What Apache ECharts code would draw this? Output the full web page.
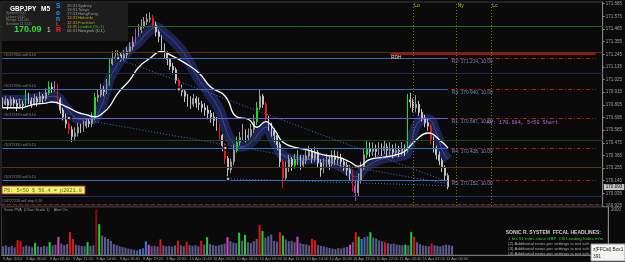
<!DOCTYPE html>
<html><head><meta charset="utf-8">
<script src="https://cdn.jsdelivr.net/npm/echarts@6/dist/echarts.min.js"></script>
<style>html,body{margin:0;padding:0;background:#0a0a0a;overflow:hidden}#c{width:625px;height:262px}</style>
</head><body><div id="c"></div>
<script>
// ---------- data ----------
const timeLabels = ['9 Apr 2014','9 Apr 06:00','9 Apr 08:40','9 Apr 11:20','9 Apr 14:00','9 Apr 16:40','9 Apr 19:20','9 Apr 22:00','10 Apr 00:40','10 Apr 03:20','10 Apr 06:00','10 Apr 08:40','10 Apr 11:20','10 Apr 14:00','10 Apr 16:40','10 Apr 19:20','10 Apr 22:00','11 Apr 00:40','11 Apr 03:20','11 Apr 06:00'];
const LABEL_EVERY = 8;
const SLOT_COUNT = 208;
const firstOpen = 170.85;
const closes = [
170.81,170.84,170.80,170.85,170.82,170.79,170.81,170.80,170.89,170.84,
170.81,170.86,170.83,170.88,170.86,170.91,170.96,170.94,170.97,170.85,
170.76,170.70,170.64,170.59,170.53,170.56,170.61,170.59,170.62,170.66,
170.64,170.69,170.87,170.89,170.94,170.92,170.99,171.16,171.21,171.22,
171.24,171.21,171.24,171.27,171.31,171.35,171.41,171.46,171.49,171.53,
171.55,171.56,171.50,171.44,171.40,171.33,171.25,171.20,171.14,171.11,
171.02,170.94,170.92,170.88,170.83,170.81,170.86,170.82,170.81,170.78,
170.76,170.73,170.70,170.67,170.62,170.54,170.45,170.34,170.24,170.31,
170.41,170.48,170.52,170.56,170.52,170.54,170.59,170.66,170.78,170.88,
170.81,170.69,170.62,170.58,170.54,170.46,170.31,170.17,170.26,170.33,
170.28,170.33,170.35,170.28,170.32,170.36,170.40,170.34,170.39,170.30,
170.24,170.29,170.33,170.29,170.36,170.33,170.34,170.31,170.28,170.24,
170.21,170.10,170.04,170.15,170.26,170.37,170.42,170.40,170.42,170.40,
170.43,170.41,170.44,170.41,170.42,170.39,170.41,170.40,170.42,170.41,
170.85,170.83,170.78,170.81,170.74,170.69,170.65,170.62,170.50,170.43,
170.37,170.32,170.26,170.19,170.09];
const highs = [
170.87,170.88,170.86,170.88,170.87,170.85,170.86,170.84,170.94,170.91,
170.87,170.90,170.88,170.92,170.90,170.95,171.01,171.00,171.01,170.99,
170.87,170.78,170.73,170.66,170.62,170.61,170.65,170.64,170.67,170.69,
170.68,170.74,170.91,170.94,170.99,170.97,171.03,171.21,171.27,171.28,
171.28,171.26,171.28,171.31,171.35,171.40,171.47,171.51,171.55,171.57,
171.60,171.61,171.59,171.53,171.46,171.41,171.34,171.27,171.21,171.17,
171.13,171.04,170.98,170.94,170.90,170.88,170.90,170.88,170.87,170.84,
170.82,170.80,170.76,170.74,170.70,170.64,170.55,170.47,170.36,170.34,
170.46,170.53,170.57,170.64,170.59,170.60,170.64,170.72,170.83,170.94,
170.90,170.83,170.71,170.65,170.60,170.56,170.48,170.33,170.31,170.37,
170.35,170.38,170.41,170.37,170.37,170.41,170.45,170.42,170.44,170.41,
170.33,170.34,170.38,170.36,170.41,170.41,170.40,170.38,170.34,170.31,
170.28,170.24,170.15,170.21,170.31,170.43,170.50,170.48,170.48,170.46,
170.48,170.47,170.50,170.47,170.48,170.46,170.47,170.45,170.48,170.46,
170.90,170.91,170.86,170.89,170.84,170.77,170.72,170.69,170.64,170.53,
170.45,170.40,170.34,170.28,170.21];
const lows = [
170.78,170.80,170.76,170.78,170.79,170.75,170.77,170.76,170.79,170.81,
170.78,170.80,170.79,170.81,170.82,170.84,170.89,170.91,170.92,170.81,
170.73,170.67,170.60,170.55,170.48,170.50,170.53,170.56,170.57,170.60,
170.61,170.61,170.67,170.83,170.87,170.88,170.90,170.97,171.15,171.19,
171.20,171.18,171.19,171.21,171.25,171.28,171.34,171.40,171.43,171.47,
171.50,171.52,171.48,171.40,171.35,171.28,171.21,171.15,171.11,171.07,
170.99,170.91,170.88,170.83,170.79,170.77,170.79,170.78,170.76,170.74,
170.71,170.68,170.65,170.62,170.58,170.50,170.40,170.29,170.17,170.21,
170.28,170.39,170.45,170.49,170.48,170.49,170.52,170.56,170.63,170.76,
170.78,170.66,170.58,170.53,170.48,170.41,170.26,170.08,170.15,170.22,
170.23,170.25,170.28,170.24,170.26,170.29,170.33,170.30,170.31,170.26,
170.18,170.21,170.26,170.24,170.27,170.28,170.28,170.27,170.23,170.19,
170.15,170.05,169.97,170.01,170.12,170.24,170.34,170.35,170.36,170.35,
170.37,170.36,170.38,170.36,170.37,170.34,170.36,170.35,170.37,170.36,
170.39,170.78,170.74,170.74,170.71,170.66,170.61,170.58,170.46,170.39,
170.33,170.28,170.22,170.14,170.07];
const volumes = [
380,420,350,400,330,650,600,360,420,380,
340,520,380,350,400,370,560,420,450,790,
500,430,480,1000,700,450,420,390,380,560,
400,420,2000,1350,850,780,700,620,480,430,
380,350,320,280,260,230,200,260,300,600,
450,380,400,370,680,420,380,400,370,420,
620,420,380,580,430,400,420,380,620,450,
780,480,440,400,420,460,500,780,600,540,
520,980,620,880,560,520,600,700,1300,1050,
760,820,900,620,580,1000,850,680,600,620,
560,800,520,480,460,420,700,650,440,400,
380,340,310,280,260,300,280,320,350,450,
560,1000,800,700,780,820,1000,760,720,640,
600,560,520,480,500,460,440,430,450,420,
1000,800,560,480,420,400,380,500,420,400,
380,420,450,430,400];
const greenCandles = [8,16,32,37,81,88,101,126,140];
const redCandles = [19,23,52,61,75,77,91,97,121,148];
const magentaCandles = [46,122];
const volRed = [5,6,23,24,54,60,63,68,88,95,106,107,121,131,141,147];
const volDarkRed = [32];
const volGreen = [11,16,29,33,70,81,83,89,96,122,126,138,140];
const volMagenta = [19,50,77,101,119];
const volBlue = [47,49,123];
const maCats = [0,6,11,15,17,22,26,29,32,35,37,40,44,47,51,55,58,63,68,72,77,81,85,88,91,94,97,102,106,111,116,120,123,127,132,136,139,143,147,152,154];
const maVals = [170.78,170.78,170.81,170.82,170.83,170.79,170.74,170.72,170.70,170.74,170.79,170.91,171.02,171.13,171.21,171.27,171.24,171.17,171.08,170.96,170.88,170.70,170.68,170.61,170.66,170.59,170.48,170.43,170.41,170.37,170.35,170.31,170.27,170.33,170.35,170.37,170.40,170.50,170.56,170.48,170.43];
const bandCats = [0,6,13,18,22,27,31,34,36,38,43,47,50,53,56,61,64,68,71,75,77,79,82,86,89,91,94,98,103,108,113,119,122,126,132,139,141,144,147,150,152,154];
const bandVals = [170.85,170.85,170.87,170.88,170.78,170.68,170.68,170.78,170.94,171.08,171.26,171.35,171.43,171.48,171.43,171.31,171.20,171.02,170.92,170.76,170.61,170.50,170.44,170.48,170.57,170.61,170.48,170.35,170.33,170.33,170.31,170.24,170.18,170.27,170.34,170.37,170.47,170.66,170.68,170.56,170.41,170.33];
const levelNames = ['R2','R3','R1','R4','R5'];
const levelVals = [171.214,170.940,170.687,170.428,170.152];
const levelLots = '10.00';
const orderTickets = ['#10727650 sell 0.10','#10727690 sell 0.10','#10727470 sell 0.10','#10727410 sell 0.10','#10727263 sell 0.10'];
const sellStopVal = 169.944, sellStopText = '#10727218 sell stop 0.10';
const avText = 'AV: 170.684, 5<50 Short', avVal = 170.684, avCat = 167;
const rdhVal = 171.249, rdhCat = 134;
const currentPrice = 170.093;
const sessionCats = [142,157,169];
const sessionNames = ['Lo','Ny','Lc'];
const markerCats = [23,40,61,77,78];
const markerVals = [170.69,171.21,170.94,170.43,170.16];
const trendFromCats = [40,32,78], trendFromVals = [171.206,170.658,170.162];
const trendToCats = [154,154,154], trendToVals = [170.135,170.118,170.101];
const extraLineVals = [171.493,171.262,171.080,170.500,170.262,170.010];
const yTickStart = 169.925, yTickStep = 0.11, yTop = 171.70;
const volTop = 2100, volStep = 1000, volShown = 2000;
const sessionTimes = ['20:31','19:31','17:31','13:31','12:31','11:31','06:31'];
const sessionCities = ['Sydney','Tokyo','HongKong','Helsinki','Frankfurt','London (G+1)','Newyork (D.L)'];
const infoLines = ['Spread 5.00','Lclose 0.00','Range 131.00','Session 11.5.00'];
const newsLines = ['1 hrs 51 mins since GBP  CB Leading Index m/m','(2) Additional news per settings is not sch','(3) Additional news per settings is not sch','(4) Additional news per settings is not sch'];

// ---------- build ----------
const LAST = closes.length - 1;
const cats = Array.from({length: SLOT_COUNT}, (_, i) => 'c' + i);
const gS = new Set(greenCandles), rS = new Set(redCandles), mS = new Set(magentaCandles);
function solid(c){return {color:c,color0:c,borderColor:c,borderColor0:c};}
const candleData = closes.map((c, i) => {
  const o = i === 0 ? firstOpen : closes[i-1];
  const it = {value:[o, c, lows[i], highs[i]]};
  if (gS.has(i)) it.itemStyle = solid('#22dd22');
  else if (rS.has(i)) it.itemStyle = solid('#ee1818');
  else if (mS.has(i)) it.itemStyle = solid('#c040d0');
  return it;
});
const vc = {};
volRed.forEach(i=>vc[i]='#e01414'); volDarkRed.forEach(i=>vc[i]='#8a0c0c');
volGreen.forEach(i=>vc[i]='#22cc33'); volMagenta.forEach(i=>vc[i]='#e040c0'); volBlue.forEach(i=>vc[i]='#2a7ae0');
const volData = volumes.map((v,i)=> vc[i] ? {value:v, itemStyle:{color:vc[i]}} : v);
const maData = maCats.map((c,i)=>[c, maVals[i]]);
const bandData = bandCats.map((c,i)=>[c, bandVals[i]]);
const markerData = markerCats.map((c,i)=>[c, markerVals[i]]);

const CLEAR = 'rgba(0,0,0,0)';
const ml = [];
const extraColors = ['#1d6a1d','#4e3618','#262652','#1d461d','#4e3618','#2e2e64'];
extraLineVals.forEach((v,i)=>ml.push({yAxis:v, lineStyle:{color:extraColors[i], width:1, type:'solid'}, label:{show:false}}));
ml.push({yAxis:sellStopVal, lineStyle:{color:'#8a1c1c', width:1, type:[4,2]}, label:{show:true, position:'insideStartTop', formatter:sellStopText, color:'#8a8a8a', fontSize:3.6, distance:1}});
sessionCats.forEach(c=>ml.push({xAxis:c, lineStyle:{color:'#77771e', width:1, type:[1,2]}, label:{show:false}}));
levelVals.forEach((v,i)=>{
  ml.push([{coord:[0,v], lineStyle:{color: i===2?'#6a5fd0':'#3d6cb4', width:1, type:'solid'}, label:{show:true, position:'insideStartTop', formatter:orderTickets[i], color:'#8a8a8a', fontSize:3.6, distance:1}}, {coord:[LAST, v]}]);
  ml.push([{coord:[LAST+1,v], lineStyle:{color:'#c41a1a', width:1, type:[4,2,1,2]}, label:{show:true, position:'insideStartBottom', formatter:levelNames[i]+': '+v.toFixed(3)+', '+levelLots, color:'#5f8fd0', fontSize:4.8, distance:1}}, {coord:[SLOT_COUNT-3, v]}]);
});
ml.push([{coord:[avCat,avVal], lineStyle:{color:CLEAR, width:1}, label:{show:true, position:'insideStartBottom', formatter:avText, color:'#b070e0', fontSize:5.2, fontFamily:'Liberation Mono', distance:1}}, {coord:[SLOT_COUNT-3, avVal]}]);
ml.push([{coord:[rdhCat,rdhVal], lineStyle:{color:'#dd1111', width:1.5, type:'solid'}, label:{show:true, position:'insideStartBottom', formatter:'RDH', color:'#dddddd', fontSize:4.8, distance:1}}, {coord:[SLOT_COUNT-3, rdhVal]}]);
trendFromCats.forEach((c,i)=>ml.push([{coord:[c,trendFromVals[i]], lineStyle:{color:'#4a6fc0', width:1, type:[1,2]}, label:{show:false}}, {coord:[trendToCats[i], trendToVals[i]]}]));
ml.push({yAxis:currentPrice, lineStyle:{color:CLEAR, width:1}, label:{show:true, position:'end', formatter:currentPrice.toFixed(3), backgroundColor:'#c4c4c4', color:'#111', fontSize:4.6, padding:[1,2,0,2], distance:1}});

const sessionPts = sessionCats.map((c,i)=>({coord:[c, yTop-0.03], name:sessionNames[i], label:{formatter:sessionNames[i]}}));

const chart = echarts.init(document.getElementById('c'));
const txt = (x,y,t,fill,size,extra) => ({type:'text', x:x, y:y, z:100, style:Object.assign({text:t, fill:fill, fontSize:size, fontFamily:'Liberation Sans', verticalAlign:'middle'}, extra||{})});
const graphics = [
  {type:'rect', x:2, y:3, z:99, shape:{width:126, height:38}, style:{fill:'#1d1d1d'}},
  txt(10,9,'GBPJPY','#ffffff',6.5,{fontWeight:'bold'}),
  txt(41,9,'M5','#ffffff',6.5,{fontWeight:'bold'}),
  txt(56,6,'S','#1e90ff',6.5,{fontWeight:'bold'}),
  txt(56,13,'o','#1e90ff',6.5,{fontWeight:'bold'}),
  txt(56,19,'n','#2a9cff',6.5,{fontWeight:'bold'}),
  txt(56,24.5,'L','#ff3a2a',6,{fontWeight:'bold'}),
  txt(56,30,'R','#ff2020',7,{fontWeight:'bold'}),
  txt(14,30,'170.09','#33dd33',9,{fontWeight:'bold'}),
  txt(47,30,'1','#dddddd',6.5),
  txt(601,233,'SONIC R. SYSTEM  FFCAL HEADLINES:','#cccccc',5,{fontWeight:'bold', align:'right'}),
  txt(4,210,'Sonic PVA  (Chart Scale 1)    Alert On','#9a9a9a',3.8),
  {type:'rect', x:2, y:186, z:99, shape:{width:83, height:8}, style:{fill:'#f2f26a', stroke:'#a83030', lineWidth:1}},
  txt(4,190.5,'PS: 5<50 $ 56.4 = p2021.0','#4a6a18',5.2,{fontFamily:'Liberation Mono'})
];
infoLines.forEach((t,i)=>graphics.push(txt(6,13+3.6*i,t,'#8a8a8a',3.6)));
const tCol = ['#9a9a9a','#9a9a9a','#9a9a9a','#d0a020','#d0a020','#d0a020','#9a9a9a'];
const nCol = ['#9a9a9a','#9a9a9a','#9a9a9a','#b4b422','#a4a422','#33c433','#aaaaaa'];
sessionTimes.forEach((t,i)=>{graphics.push(txt(67,6+4.1*i,t,tCol[i],4.2)); graphics.push(txt(78,6+4.1*i,sessionCities[i],nCol[i],4.2));});
const newsCol = ['#2fcf2f','#b0b0b0','#b0b0b0','#b0b0b0'];
newsLines.forEach((t,i)=>graphics.push(txt(508,238.5+5*i,t,newsCol[i],4.4)));
graphics.push({type:'rect', x:591, y:244, z:101, shape:{width:34, height:17}, style:{fill:'#f5f5ef', stroke:'#9a9a9a', lineWidth:1}});
graphics.push(Object.assign(txt(593,249.5,'z[FFCal] Box1','#222',4.8),{z:102}));
graphics.push(Object.assign(txt(593,256.5,'391','#222',4.8),{z:102}));

chart.setOption({
  animation:false,
  backgroundColor:'#0a0a0a',
  grid:[
    {left:1, top:2, width:607, height:204, show:true, borderColor:'#3a3a3a', borderWidth:1},
    {left:1, top:207, width:607, height:48, show:true, borderColor:'#3a3a3a', borderWidth:1}
  ],
  xAxis:[
    {type:'category', gridIndex:0, data:cats, boundaryGap:true, axisLine:{show:false}, axisTick:{show:false}, axisLabel:{show:false}, splitLine:{show:false}},
    {type:'category', gridIndex:1, data:cats, boundaryGap:true, axisLine:{show:true, lineStyle:{color:'#777'}}, axisTick:{show:false},
     axisLabel:{interval:0, align:'left', color:'#9a9a9a', fontSize:3.9, margin:2, fontFamily:'Liberation Sans Narrow, Liberation Sans',
       formatter:(v,i)=> (i % LABEL_EVERY === 0 && i/LABEL_EVERY < timeLabels.length) ? timeLabels[i/LABEL_EVERY] : ''}, splitLine:{show:false}}
  ],
  yAxis:[
    {type:'value', gridIndex:0, position:'right', min:yTickStart, max:yTop, interval:yTickStep, scale:true,
     axisLine:{show:true, lineStyle:{color:'#888'}}, axisTick:{show:true, length:2, lineStyle:{color:'#888'}},
     axisLabel:{color:'#a0a0a0', fontSize:4.5, margin:3, showMaxLabel:false, fontFamily:'Liberation Sans', formatter:v=>v.toFixed(3)}, splitLine:{show:false}},
    {type:'value', gridIndex:1, position:'right', min:0, max:volTop, interval:volStep,
     axisLine:{show:true, lineStyle:{color:'#888'}}, axisTick:{show:false},
     axisLabel:{color:'#a0a0a0', fontSize:4.5, margin:3, showMaxLabel:false, formatter:v=> v===volShown ? String(v) : ''}, splitLine:{show:false}}
  ],
  graphic: graphics,
  series:[
    {type:'line', name:'band', xAxisIndex:0, yAxisIndex:0, data:bandData, smooth:0.5, symbol:'none', z:1,
     lineStyle:{width:10, color:'rgba(40,50,128,0.62)'},
     markLine:{silent:true, symbol:['none','none'], label:{show:false}, data:ml, animation:false},
     markPoint:{symbol:'circle', symbolSize:0, data:sessionPts, label:{show:true, position:'right', distance:1, color:'#c8c820', fontSize:5, fontFamily:'Liberation Sans'}}},
    {type:'line', name:'bandCore', xAxisIndex:0, yAxisIndex:0, data:bandData, smooth:0.5, symbol:'none', z:2,
     lineStyle:{width:1, color:'rgba(95,110,200,0.55)'}},
    {type:'candlestick', name:'GBPJPY', xAxisIndex:0, yAxisIndex:0, data:candleData, barWidth:'45%', z:3,
     itemStyle:{color:'#8e8e8e', color0:'#bcbcbc', borderColor:'#9c9c9c', borderColor0:'#c4c4c4', borderWidth:1}},
    {type:'line', name:'ma', xAxisIndex:0, yAxisIndex:0, data:maData, smooth:0.5, symbol:'none', z:4,
     lineStyle:{width:1.3, color:'#ffffff'}},
    {type:'scatter', name:'marks', xAxisIndex:0, yAxisIndex:0, data:markerData, symbol:'emptyCircle', symbolSize:4, z:5,
     itemStyle:{color:'#0a0a0a', borderColor:'#ff2050', borderWidth:1}},
    {type:'bar', name:'volume', xAxisIndex:1, yAxisIndex:1, data:volData, barWidth:'70%', itemStyle:{color:'#5a5a8c'}}
  ]
});
</script></body></html>
